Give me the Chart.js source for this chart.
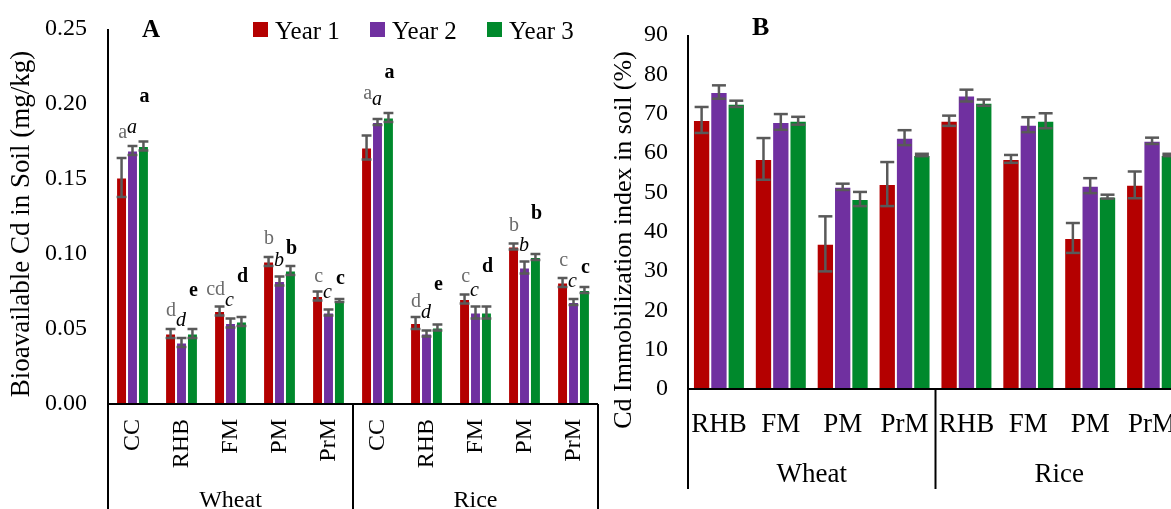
<!DOCTYPE html>
<html>
<head>
<meta charset="utf-8">
<title>Cd in soil</title>
<script src="https://cdn.jsdelivr.net/npm/chart.js@4.4.1/dist/chart.umd.min.js"></script>
<style>
    html, body { margin: 0; padding: 0; background: #fff; overflow: hidden; width: 1171px; height: 509px; }
    .panel { position: absolute; top: 0; width: 600px; height: 509px; }
    #panelA { left: 0; }
    #panelB { left: 600px; }
</style>
</head>
<body>
<div class="panel" id="panelA"><canvas id="chartA" width="600" height="509"></canvas></div>
<div class="panel" id="panelB"><canvas id="chartB" width="600" height="509"></canvas></div>
<script>
/**
 * DATA
 */
const yearLabels = ['Year 1', 'Year 2', 'Year 3'];
const cropGroups = ['Wheat', 'Rice'];

// Panel A - bioavailable Cd (mg/kg)
const catsA = ['CC', 'RHB', 'FM', 'PM', 'PrM', 'CC', 'RHB', 'FM', 'PM', 'PrM'];
const cdYear1 = [0.151, 0.047, 0.062, 0.095, 0.072, 0.171, 0.054, 0.070, 0.105, 0.081];
const cdYear2 = [0.169, 0.041, 0.054, 0.082, 0.061, 0.188, 0.047, 0.061, 0.091, 0.068];
const cdYear3 = [0.172, 0.047, 0.055, 0.089, 0.069, 0.191, 0.051, 0.061, 0.098, 0.076];
const cdErr1 = [0.013, 0.003, 0.003, 0.003, 0.003, 0.008, 0.004, 0.003, 0.002, 0.003];
const cdErr2 = [0.003, 0.003, 0.003, 0.003, 0.002, 0.002, 0.002, 0.004, 0.004, 0.002];
const cdErr3 = [0.003, 0.003, 0.003, 0.003, 0.001, 0.003, 0.002, 0.004, 0.002, 0.002];
const lettersYear1 = ['a', 'd', 'cd', 'b', 'c', 'a', 'd', 'c', 'b', 'c'];
const lettersYear2 = ['a', 'd', 'c', 'b', 'c', 'a', 'd', 'c', 'b', 'c'];
const lettersYear3 = ['a', 'e', 'd', 'b', 'c', 'a', 'e', 'd', 'b', 'c'];
const yTicksA = [0, 0.05, 0.10, 0.15, 0.20, 0.25];

// Panel B - Cd immobilization index (%)
const catsB = ['RHB', 'FM', 'PM', 'PrM', 'RHB', 'FM', 'PM', 'PrM'];
const immYear1 = [68.4, 58.5, 36.9, 52.1, 68.2, 58.5, 38.4, 51.9];
const immYear2 = [75.5, 67.9, 51.4, 63.9, 74.6, 67.2, 51.7, 63.1];
const immYear3 = [72.5, 68.2, 48.3, 59.5, 72.8, 68.2, 48.9, 59.5];
const immErr1 = [3.3, 5.3, 7.0, 5.6, 1.3, 1.0, 3.8, 3.4];
const immErr2 = [1.7, 2.0, 0.8, 1.9, 1.5, 1.9, 1.9, 0.8];
const immErr3 = [0.8, 1.0, 1.8, 0.3, 0.8, 1.9, 0.5, 0.3];
const yTicksB = [0, 10, 20, 30, 40, 50, 60, 70, 80, 90];

/**
 * STYLE
 */
const FONT = '"Liberation Serif", "Times New Roman", serif';
const barColors = ['#B40000', '#7030A0', '#00892C'];
const errColor = '#595959';

// how far (px) each letter sits above its error bar
const letterLift = {
    plain:  [20, 13, 12, 13, 10, 37, 10, 13, 13, 12],
    italic: [13, 12, 13, 11, 12, 14, 13, 11, 11, 12],
    bold:   [40, 33, 35, 12, 15, 35, 35, 35, 35, 14]
};

function makeDatasets(series, errors) {
    return series.map((s, i) => ({
        label: yearLabels[i],
        data: s,
        errors: errors[i],
        backgroundColor: barColors[i],
        borderColor: 'rgba(255,255,255,0.55)',
        borderWidth: 1,
        borderSkipped: 'bottom'
    }));
}

function strokeLine(ctx, x1, y1, x2, y2) {
    ctx.beginPath();
    ctx.moveTo(x1, y1);
    ctx.lineTo(x2, y2);
    ctx.stroke();
}

/**
 * Error bars on every bar
 */
const errorBarPlugin = {
    id: 'errorBars',
    afterDatasetsDraw(chart) {
        const ctx = chart.ctx;
        const yScale = chart.scales.y;
        ctx.save();
        ctx.strokeStyle = errColor;
        ctx.lineWidth = 2.5;
        chart.data.datasets.forEach((ds, di) => {
            chart.getDatasetMeta(di).data.forEach((bar, i) => {
                const v = ds.data[i];
                const e = ds.errors[i];
                const top = yScale.getPixelForValue(v + e);
                const bot = yScale.getPixelForValue(v - e);
                const cap = Math.min(bar.width * 0.45, 7);
                strokeLine(ctx, bar.x, top, bar.x, bot);
                strokeLine(ctx, bar.x - cap, top, bar.x + cap, top);
                strokeLine(ctx, bar.x - cap, bot, bar.x + cap, bot);
            });
        });
        ctx.restore();
    }
};

/**
 * Axes, group box, titles, legend
 */
const framePlugin = {
    id: 'frame',
    afterDraw(chart, args, opts) {
        const ctx = chart.ctx;
        const a = chart.chartArea;
        const xs = chart.scales.x;
        const n = chart.data.labels.length;
        const half = n / 2;
        const step = xs.getPixelForValue(1) - xs.getPixelForValue(0);
        const mid = (xs.getPixelForValue(half - 1) + xs.getPixelForValue(half)) / 2;
        const right = xs.getPixelForValue(n - 1) + step / 2;

        ctx.save();
        ctx.strokeStyle = '#000';
        ctx.lineWidth = 2;
        strokeLine(ctx, a.left, a.top, a.left, a.bottom);
        strokeLine(ctx, a.left, a.bottom, right, a.bottom);
        [a.left, mid, right].forEach(x => strokeLine(ctx, x, a.bottom, x, opts.boxBottom));

        // group names
        ctx.fillStyle = '#000';
        ctx.font = opts.groupSize + 'px ' + FONT;
        ctx.textAlign = 'center';
        ctx.textBaseline = 'alphabetic';
        ctx.fillText(cropGroups[0], (a.left + mid) / 2, opts.groupBaseline);
        ctx.fillText(cropGroups[1], (mid + right) / 2, opts.groupBaseline);

        // panel letter
        ctx.font = 'bold ' + opts.titleSize + 'px ' + FONT;
        ctx.textAlign = 'left';
        ctx.fillText(opts.title, opts.titleX, opts.titleY);

        // y axis title
        ctx.save();
        ctx.translate(opts.yTitleX, opts.yTitleY);
        ctx.rotate(-Math.PI / 2);
        ctx.font = opts.yTitleSize + 'px ' + FONT;
        ctx.textAlign = 'center';
        ctx.fillText(opts.yTitle, 0, 0);
        ctx.restore();

        // legend
        if (opts.legendX) {
            ctx.font = opts.legendSize + 'px ' + FONT;
            ctx.textAlign = 'left';
            chart.data.datasets.forEach((ds, i) => {
                const x = opts.legendX + i * opts.legendGap;
                ctx.fillStyle = ds.backgroundColor;
                ctx.fillRect(x, opts.legendY - 17, 15, 15);
                ctx.fillStyle = '#000';
                ctx.fillText(ds.label, x + 22, opts.legendY);
            });
        }
        ctx.restore();
    }
};

/**
 * Significance letters above the bars (panel A)
 */
const letterPlugin = {
    id: 'letters',
    afterDatasetsDraw(chart) {
        const ctx = chart.ctx;
        const yScale = chart.scales.y;
        const sets = [lettersYear1, lettersYear2, lettersYear3];
        const styles = [
            { font: '20px ' + FONT, color: '#6b6b6b', lift: letterLift.plain },
            { font: 'italic 20px ' + FONT, color: '#000', lift: letterLift.italic },
            { font: 'bold 20px ' + FONT, color: '#000', lift: letterLift.bold }
        ];
        ctx.save();
        ctx.textBaseline = 'alphabetic';
        chart.data.datasets.forEach((ds, di) => {
            const st = styles[di];
            ctx.font = st.font;
            ctx.fillStyle = st.color;
            chart.getDatasetMeta(di).data.forEach((bar, i) => {
                const top = yScale.getPixelForValue(ds.data[i] + ds.errors[i]);
                let x = bar.x;
                if (di === 0) { ctx.textAlign = 'right'; x = bar.x + bar.width / 2; }
                else if (di === 1) { ctx.textAlign = 'left'; x = bar.x - bar.width / 2; }
                else { ctx.textAlign = 'center'; x = bar.x + 1; }
                ctx.fillText(sets[di][i], x, top - st.lift[i]);
            });
        });
        ctx.restore();
    }
};

function baseScales(ticks, yWidth, yPad, tickSize, xHeight, xTicks) {
    return {
        x: {
            grid: { display: false, drawTicks: false },
            border: { display: false },
            ticks: Object.assign({ color: '#000', autoSkip: false }, xTicks),
            afterFit: s => {
                s.height = xHeight;
                s.paddingLeft = 0;
                s.paddingRight = 0;
            }
        },
        y: {
            min: ticks[0],
            max: ticks[ticks.length - 1],
            grid: { display: false, drawTicks: false },
            border: { display: false },
            ticks: {
                stepSize: ticks[1] - ticks[0],
                padding: yPad,
                color: '#000',
                font: { family: FONT, size: tickSize },
                callback: v => (ticks[1] < 1 ? v.toFixed(2) : v)
            },
            afterFit: s => {
                s.width = yWidth;
                s.paddingTop = 0;
                s.paddingBottom = 0;
            }
        }
    };
}

/**
 * Panel A
 */
function createPanelA() {
    new Chart(document.getElementById('chartA'), {
        type: 'bar',
        data: {
            labels: catsA,
            datasets: makeDatasets([cdYear1, cdYear2, cdYear3], [cdErr1, cdErr2, cdErr3])
        },
        options: {
            responsive: false,
            animation: false,
            layout: { padding: { top: 29, right: 2, left: 0, bottom: 0 } },
            datasets: { bar: { categoryPercentage: 0.67, barPercentage: 1 } },
            plugins: {
                legend: { display: false },
                tooltip: { enabled: false },
                frame: {
                    boxBottom: 509, groupSize: 24, groupBaseline: 507,
                    title: 'A', titleX: 142, titleY: 37, titleSize: 25,
                    yTitle: 'Bioavailable Cd in Soil (mg/kg)', yTitleX: 29, yTitleY: 224, yTitleSize: 27,
                    legendX: 253, legendY: 39, legendGap: 117, legendSize: 25
                }
            },
            scales: baseScales(yTicksA, 108, 21, 24, 105, {
                minRotation: 90, maxRotation: 90, padding: 15,
                font: { family: FONT, size: 24 }
            })
        },
        plugins: [errorBarPlugin, letterPlugin, framePlugin]
    });
}

/**
 * Panel B
 */
function createPanelB() {
    new Chart(document.getElementById('chartB'), {
        type: 'bar',
        data: {
            labels: catsB,
            datasets: makeDatasets([immYear1, immYear2, immYear3], [immErr1, immErr2, immErr3])
        },
        options: {
            responsive: false,
            animation: false,
            layout: { padding: { top: 35, right: 17, left: 0, bottom: 0 } },
            datasets: { bar: { categoryPercentage: 0.84, barPercentage: 1 } },
            plugins: {
                legend: { display: false },
                tooltip: { enabled: false },
                frame: {
                    boxBottom: 489, groupSize: 27, groupBaseline: 482,
                    title: 'B', titleX: 152, titleY: 35, titleSize: 26,
                    yTitle: 'Cd Immobilization index in soil (%)', yTitleX: 31, yTitleY: 240, yTitleSize: 26,
                    legendX: 0
                }
            },
            scales: baseScales(yTicksB, 88, 20, 24, 120, {
                minRotation: 0, maxRotation: 0, padding: 20,
                font: { family: FONT, size: 27 }
            })
        },
        plugins: [errorBarPlugin, framePlugin]
    });
}

createPanelA();
createPanelB();
console.log('charts drawn');
</script>
</body>
</html>
